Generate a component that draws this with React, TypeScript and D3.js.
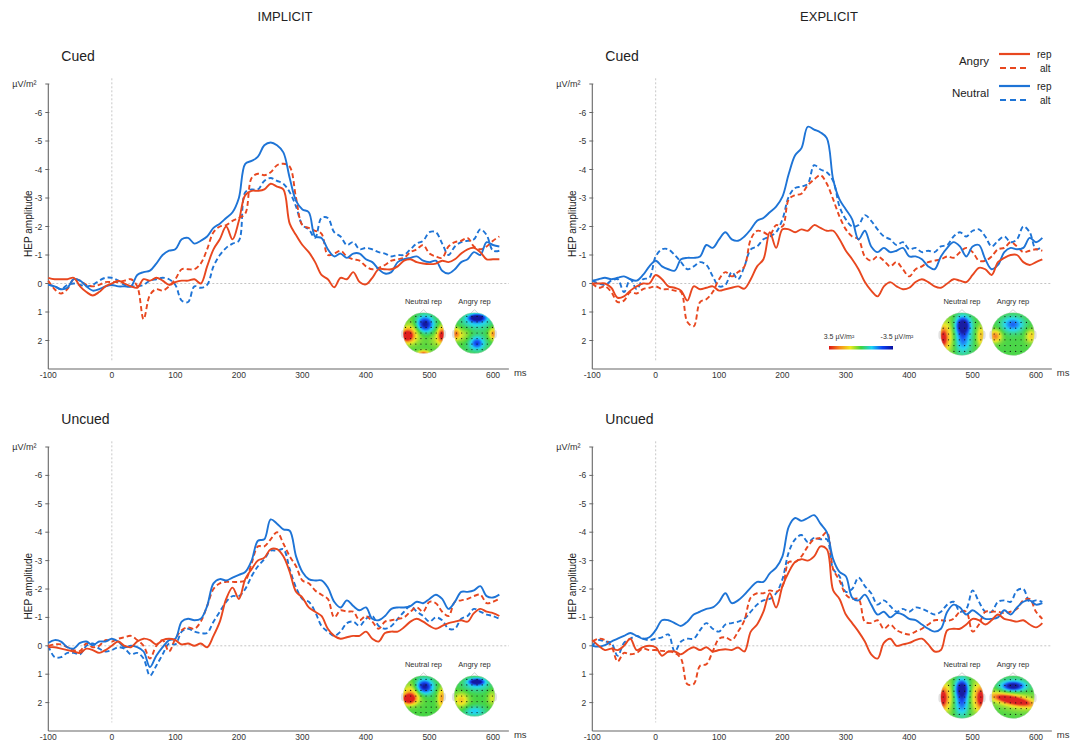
import React from "react";
import * as d3 from "d3";

// sample times (ms), one value every 10 ms
const TIMES = d3.range(-100, 611, 10);

// IMPLICIT – Cued
const IMP_CUED_NEU_REP = [
  0.05, 0.1, 0.2, 0.15, -0.15, -0.1, 0.1, 0.25, 0.2, 0.1,
  0.05, 0.1, 0.1, 0.1, -0.3, -0.4, -0.45, -0.7, -1.0, -1.15,
  -1.2, -1.55, -1.6, -1.4, -1.5, -1.65, -1.95, -2.1, -2.3, -2.5,
  -3.0, -4.2, -4.3, -4.45, -4.85, -4.95, -4.85, -4.6, -3.7, -2.9,
  -2.6, -2.5, -1.65, -1.6, -1.2, -0.95, -1.05, -0.9, -1.05, -1.05,
  -0.85, -0.75, -0.5, -0.35, -0.4, -0.75, -0.85, -0.9, -0.95, -0.8,
  -0.75, -0.8, -0.45, -0.35, -0.5, -0.75, -0.85, -1.1, -1.0, -1.45,
  -1.35, -1.3,
];
const IMP_CUED_NEU_ALT = [
  0.05, 0.1, 0.2, 0.05, 0.0, 0.05, 0.1, 0.05, -0.1, -0.2,
  -0.2, -0.1, 0.05, 0.1, 0.1, 0.05, -0.1, -0.15, -0.2, -0.15,
  0.05, 0.6, 0.65, 0.1, 0.15, 0.05, -0.6, -1.0, -1.25, -1.4,
  -1.5, -3.2, -3.3, -3.3, -3.6, -3.7, -3.6, -3.5, -3.2, -2.7,
  -2.05, -1.9, -1.6, -2.3, -2.3, -1.8, -1.65, -1.35, -1.45, -1.2,
  -1.25, -1.2, -1.1, -1.05, -0.95, -1.0, -1.0, -1.2, -1.4, -1.5,
  -1.8, -1.8, -1.4, -1.0, -1.3, -1.45, -1.5, -1.55, -1.9, -1.7,
  -1.15, -1.15,
];
const IMP_CUED_ANG_REP = [
  -0.2, -0.15, -0.15, -0.15, -0.2, 0.1, 0.3, 0.42, 0.3, 0.1,
  0.0, -0.1, 0.0, 0.1, 0.15, -0.15, -0.1, -0.2, -0.1, 0.05,
  -0.05, -0.1, -0.1, -0.15, 0.0, -0.6, -1.2, -1.55, -2.0, -1.55,
  -2.2, -3.1, -3.25, -3.25, -3.3, -3.5, -3.4, -3.3, -2.1, -1.7,
  -1.35, -1.1, -0.75, -0.3, -0.15, 0.13, -0.2, -0.15, -0.4, -0.05,
  0.03, -0.2, -0.5, -0.5, -0.5, -0.6, -0.8, -0.85, -0.75, -0.7,
  -0.68, -0.7, -0.8, -0.75, -0.85, -1.05, -1.2, -1.25, -1.1, -0.85,
  -0.85, -0.85,
];
const IMP_CUED_ANG_ALT = [
  -0.1, 0.2, 0.35, 0.2, -0.15, -0.1, 0.05, 0.1, 0.05, -0.05,
  -0.05, -0.05, -0.1, -0.15, 0.1, 1.25, 0.4, 0.2, 0.25, 0.1,
  -0.15, -0.5, -0.5, -0.5, -0.7, -1.2, -1.8, -2.0, -2.05, -2.2,
  -2.3, -2.45, -3.7, -3.85, -3.8, -3.9, -4.15, -4.2, -4.1, -3.0,
  -2.05, -1.95, -1.85, -1.75, -1.0, -1.05, -1.15, -0.95, -0.85, -0.8,
  -0.6, -0.5, -0.55, -0.65, -0.8, -0.85, -0.9, -1.1, -1.2, -1.35,
  -1.05, -0.95, -0.9, -1.3, -1.45, -1.5, -1.6, -1.3, -1.2, -1.3,
  -1.5, -1.65,
];

// EXPLICIT – Cued
const EXP_CUED_NEU_REP = [
  -0.1, -0.15, -0.2, -0.15, -0.2, -0.25, -0.15, -0.1, -0.3, -0.6,
  -0.8, -0.6, -0.5, -0.45, -0.85, -0.9, -0.9, -0.95, -1.35, -1.25,
  -1.55, -1.8, -1.55, -1.5, -1.65, -1.9, -2.2, -2.3, -2.5, -2.7,
  -3.05, -3.85, -4.5, -4.75, -5.5, -5.4, -5.3, -5.1, -3.65, -2.95,
  -2.6, -2.25, -1.55, -1.85, -1.3, -1.1, -1.25, -1.1, -1.15, -1.25,
  -0.95, -0.95, -0.85, -0.6, -0.5, -0.95, -1.25, -1.45, -1.3, -0.95,
  -1.3, -1.35, -0.85, -0.5, -0.65, -1.1, -1.25, -1.2, -1.25, -1.6,
  -1.45, -1.6,
];
const EXP_CUED_NEU_ALT = [
  -0.1, 0.0, 0.05, -0.1, -0.15, 0.3, -0.15, 0.2, -0.15, -0.2,
  -0.95, -1.2, -1.2, -1.0, -0.75, -0.5, -0.6, -0.75, -0.65, -0.25,
  0.1, 0.05, -0.4, -0.15, -0.6, -1.2, -1.3, -1.55, -1.65, -1.8,
  -2.25, -3.05, -3.35, -3.4, -3.5, -4.15, -4.0, -3.9, -3.6, -2.7,
  -2.25, -2.0, -2.05, -2.4, -2.2, -1.9, -1.65, -1.55, -1.35, -1.45,
  -1.2, -1.25, -1.1, -1.15, -1.1, -1.3, -1.35, -1.65, -1.8, -1.65,
  -1.85, -1.9, -1.65, -1.3, -1.5, -1.65, -1.45, -1.55, -2.0, -1.8,
  -1.2, -1.3,
];
const EXP_CUED_ANG_REP = [
  0.0, 0.0, 0.0, 0.15, 0.5, 0.45, 0.25, 0.1, 0.0, 0.0,
  -0.3, -0.15, 0.1, 0.15, 0.25, 0.6, 0.1, 0.2, 0.15, 0.1,
  0.25, 0.2, 0.15, 0.1, 0.18, -0.15, -0.6, -0.85, -1.8, -1.25,
  -1.9, -1.9, -1.8, -1.9, -1.85, -2.05, -1.95, -1.85, -1.85, -1.55,
  -1.15, -0.85, -0.5, -0.05, 0.25, 0.45, 0.1, -0.05, 0.1, 0.2,
  0.15, -0.05, -0.15, -0.05, 0.1, 0.15, 0.0, -0.15, -0.1, -0.05,
  -0.3, -0.55, -0.5, -0.3, -0.75, -0.9, -1.0, -1.0, -0.75, -0.65,
  -0.75, -0.85,
];
const EXP_CUED_ANG_ALT = [
  0.0, 0.15, 0.1, 0.3, 0.65, 0.6, 0.3, 0.35, 0.2, 0.15,
  0.1, 0.2, 0.2, 0.25, 0.3, 1.35, 1.5, 0.65, 0.55, 0.3,
  -0.15, -0.4, -0.25, -0.4, -0.6, -1.55, -1.85, -1.8, -1.7, -2.05,
  -2.0, -2.95, -3.1, -3.15, -3.45, -3.65, -3.8, -3.5, -2.95, -2.35,
  -1.9, -1.65, -1.55, -0.95, -0.8, -0.95, -0.8, -0.6, -0.75, -0.5,
  -0.25, -0.5, -0.6, -0.75, -0.8, -0.85, -0.95, -0.9, -1.1, -1.25,
  -1.1, -0.8, -0.8, -0.95, -1.2, -1.25, -1.45, -1.3, -1.1, -1.15,
  -1.2, -1.15,
];

// IMPLICIT – Uncued
const IMP_UNCUED_NEU_REP = [
  -0.1, -0.2, -0.15, 0.05, 0.1, -0.1, -0.15, -0.02, -0.15, -0.15,
  -0.25, -0.15, 0.05, 0.0, 0.05, 0.2, 0.75, 0.35, 0.05, -0.2,
  -0.25, -0.85, -0.95, -0.9, -0.95, -1.4, -2.2, -2.35, -2.3, -2.4,
  -2.5, -2.6, -3.0, -3.7, -3.75, -4.45, -4.3, -4.1, -4.05, -3.15,
  -2.6, -2.35, -2.3, -2.3, -2.05, -1.55, -1.35, -1.6, -1.4, -1.25,
  -1.35, -0.95, -0.9, -1.05, -1.3, -1.35, -1.35, -1.4, -1.55, -1.5,
  -1.65, -1.8, -1.65, -1.3, -1.55, -1.9, -1.9, -1.95, -2.1, -1.75,
  -1.7, -1.8,
];
const IMP_UNCUED_NEU_ALT = [
  0.0, 0.4, 0.4, 0.25, 0.25, 0.3, 0.0, -0.08, 0.1, 0.2,
  0.15, 0.05, 0.1, 0.3, 0.25, 0.45, 1.05, 0.7, 0.3, -0.08,
  -0.05, -0.5, -0.6, -0.5, -0.45, -0.45, -0.85, -1.2, -1.55, -1.75,
  -1.75, -2.0, -2.45, -2.8, -3.05, -3.35, -3.35, -3.4, -2.7, -2.05,
  -1.65, -1.55, -1.2, -0.7, -0.5, -0.35, -0.5, -0.8, -0.85, -0.7,
  -0.95, -1.05, -0.7, -0.6, -0.7, -0.95, -1.2, -1.4, -1.2, -1.05,
  -0.85, -1.0, -0.9, -0.6, -0.6, -0.95, -1.05, -1.3, -1.2, -1.1,
  -1.05, -0.95,
];
const IMP_UNCUED_ANG_REP = [
  0.05, 0.05, 0.1, 0.15, 0.2, 0.25, 0.1, 0.15, 0.25, 0.15,
  0.0, -0.15, 0.0, 0.05, -0.15, -0.25, -0.2, -0.05, -0.2, -0.25,
  -0.2, -0.05, -0.08, 0.0, -0.08, 0.05, -0.35, -0.85, -1.65, -2.05,
  -1.65, -2.35, -2.7, -3.0, -3.1, -3.4, -3.4, -3.15, -2.6, -1.9,
  -1.7, -1.35, -1.2, -1.05, -0.6, -0.35, -0.25, -0.3, -0.35, -0.35,
  -0.5, -0.25, -0.15, -0.45, -0.5, -0.5, -0.65, -0.85, -0.95, -0.85,
  -0.7, -0.6, -0.7, -0.8, -0.85, -0.9, -0.85, -1.15, -1.3, -1.2,
  -1.15, -1.05,
];
const IMP_UNCUED_ANG_ALT = [
  0.0, -0.05, -0.05, 0.05, 0.15, 0.18, -0.08, 0.05, 0.0, -0.2,
  -0.15, -0.25, -0.3, -0.35, -0.2, 0.0, 0.45, 0.0, -0.2, 0.2,
  -0.25, -0.55, -0.65, -0.6, -0.85, -1.4, -2.0, -2.2, -2.25, -2.25,
  -2.25, -2.3, -2.9, -3.5, -3.5, -3.75, -4.0, -3.6, -3.15, -2.8,
  -2.3, -2.2, -1.95, -1.8, -1.65, -1.0, -1.25, -1.2, -1.2, -0.9,
  -1.05, -0.85, -0.6, -0.85, -0.9, -0.95, -1.0, -1.2, -1.35, -1.2,
  -1.55, -1.5, -1.2, -1.05, -1.55, -1.6, -1.65, -1.75, -1.8, -1.5,
  -1.55, -1.65,
];

// EXPLICIT – Uncued
const EXP_UNCUED_NEU_REP = [
  0.0, 0.03, -0.02, -0.15, -0.25, -0.35, -0.45, -0.35, -0.25, -0.3,
  -0.55, -0.9, -0.9, -0.8, -0.7, -0.85, -1.1, -1.2, -1.3, -1.35,
  -1.55, -1.85, -1.5, -1.6, -1.8, -2.05, -2.25, -2.25, -2.55, -2.75,
  -3.15, -4.2, -4.5, -4.4, -4.5, -4.6, -4.3, -4.0, -3.05, -2.6,
  -2.45, -1.7, -1.6, -1.8, -1.45, -1.1, -1.2, -1.0, -1.15, -1.1,
  -0.95, -0.9, -0.75, -0.6, -0.5, -0.6, -1.2, -1.45, -1.35, -1.1,
  -1.25, -1.1, -0.95, -0.95, -1.0, -1.25, -1.1, -1.35, -1.55, -1.6,
  -1.45, -1.5,
];
const EXP_UNCUED_NEU_ALT = [
  0.0, -0.2, -0.15, -0.1, 0.35, -0.1, -0.25, -0.35, -0.25, -0.2,
  -0.25, -0.3, -0.4, 0.2, -0.15, -0.25, -0.25, -0.55, -0.8, -0.6,
  -0.5, -0.75, -0.8, -0.85, -0.95, -1.2, -1.45, -1.6, -1.65, -1.85,
  -2.35, -3.3, -3.75, -3.9, -3.65, -3.8, -3.75, -3.75, -2.7, -2.45,
  -1.9, -2.0, -2.4, -2.1, -1.85, -1.45, -1.6, -1.4, -1.2, -1.3,
  -1.2, -1.35, -1.3, -1.2, -1.1, -1.2, -1.45, -1.55, -1.2, -1.3,
  -1.95, -1.55, -1.2, -1.2, -1.55, -1.6, -1.55, -1.95, -2.0, -1.55,
  -1.6, -1.55,
];
const EXP_UNCUED_ANG_REP = [
  -0.2, 0.0, 0.15, 0.1, 0.15, 0.0, -0.25, 0.15, 0.05, 0.0,
  0.05, 0.35, 0.2, 0.2, 0.3, 0.15, 0.05, 0.15, 0.05, 0.2,
  0.15, 0.12, 0.15, 0.06, 0.2, -0.5, -0.75, -1.2, -1.85, -1.35,
  -2.1, -2.6, -2.95, -3.05, -3.0, -3.15, -3.5, -3.4, -1.95, -1.65,
  -1.1, -0.8, -0.5, -0.15, 0.3, 0.45, -0.1, -0.25, 0.0, -0.05,
  -0.1, -0.2, -0.25, -0.05, 0.2, 0.15, -0.55, -0.6, -0.6, -0.75,
  -0.95, -0.9, -0.75, -0.9, -1.1, -0.95, -0.9, -0.85, -0.9, -0.75,
  -0.65, -0.8,
];
const EXP_UNCUED_ANG_ALT = [
  -0.15, -0.25, -0.2, 0.0, 0.55, 0.25, 0.3, 0.25, 0.1, 0.15,
  0.15, 0.18, 0.2, 0.25, 0.45, 1.35, 1.35, 0.7, 0.65, 0.2,
  -0.25, -0.3, -0.2, -0.5, -0.9, -1.7, -1.85, -1.85, -1.95, -1.9,
  -2.1, -2.95, -2.95, -3.15, -3.5, -3.75, -3.8, -4.0, -2.7, -2.3,
  -1.8, -1.65, -1.65, -0.85, -0.8, -0.9, -0.6, -0.75, -0.55, -0.45,
  -0.4, -0.5, -0.6, -0.75, -0.9, -0.9, -0.88, -0.95, -1.2, -1.2,
  -0.5, -0.75, -1.2, -1.2, -1.2, -1.15, -1.2, -1.3, -1.6, -1.65,
  -1.2, -0.95,
];

// scalp maps: [u, v, sx, sy, amplitude µV/m², rotation°] in unit-head space
const MAP_IMP_CUED_NEU = [
  [0.05, -0.42, 0.3, 0.28, -3.9, 0], [-0.82, 0.15, 0.22, 0.22, 4.0, 0],
  [-0.5, -0.05, 0.35, 0.4, 1.6, 0], [0.9, 0.1, 0.15, 0.28, 3.6, 0],
  [0.6, 0.3, 0.25, 0.3, 0.8, 0], [0.0, 1.0, 0.2, 0.1, 3.0, 0],
];
const MAP_IMP_CUED_ANG = [
  [0.12, -0.75, 0.28, 0.12, -3.8, 0], [0.1, -0.55, 0.5, 0.25, -1.6, 0],
  [0.12, 0.5, 0.22, 0.2, -2.0, 0], [0.1, 0.5, 0.4, 0.3, -0.8, 0],
  [-0.92, 0.05, 0.15, 0.2, 2.6, 0], [0.92, 0.05, 0.15, 0.2, 2.6, 0],
  [-0.55, 0.1, 0.25, 0.25, 1.0, 0],
];
const MAP_EXP_CUED_NEU = [
  [0.05, -0.42, 0.24, 0.28, -4.0, 0], [0.05, 0.25, 0.26, 0.45, -2.2, 0],
  [-0.88, 0.2, 0.15, 0.4, 3.4, 0], [-0.6, 0.1, 0.22, 0.55, 1.4, 0],
  [0.9, 0.1, 0.15, 0.35, 2.0, 0],
];
const MAP_EXP_CUED_ANG = [
  [0.0, -0.45, 0.35, 0.25, -2.4, 0], [-0.82, 0.1, 0.2, 0.2, 2.8, 0],
  [0.85, 0.1, 0.18, 0.22, 1.8, 0],
];
const MAP_IMP_UNCUED_NEU = [
  [0.02, -0.45, 0.3, 0.25, -3.9, 0], [-0.72, 0.15, 0.24, 0.18, 4.0, 0],
  [-0.55, -0.15, 0.35, 0.35, 2.0, 0], [0.9, 0.1, 0.15, 0.35, 2.4, 0],
];
const MAP_IMP_UNCUED_ANG = [
  [0.1, -0.7, 0.25, 0.1, -3.8, 0], [0.1, -0.55, 0.45, 0.22, -1.4, 0],
  [-0.65, 0.2, 0.25, 0.25, 1.9, 0], [0.0, 0.75, 0.35, 0.18, -1.5, 0],
  [0.85, 0.1, 0.15, 0.25, 1.2, 0],
];
const MAP_EXP_UNCUED_NEU = [
  [0.0, -0.4, 0.22, 0.3, -4.0, 0], [0.0, 0.3, 0.24, 0.4, -2.2, 0],
  [-0.9, 0.05, 0.15, 0.4, 3.8, 0], [0.9, 0.05, 0.15, 0.4, 3.8, 0],
  [-0.6, 0.0, 0.2, 0.55, 1.4, 0], [0.6, 0.0, 0.2, 0.55, 1.4, 0],
];
const MAP_EXP_UNCUED_ANG = [
  [0.0, -0.5, 0.35, 0.15, -3.2, 0], [0.0, -0.5, 0.5, 0.25, -1.2, 0],
  [0.0, 0.15, 0.65, 0.13, 3.9, 12], [0.0, 0.12, 0.8, 0.3, 1.8, 12],
];

const Y_TICKS = [-6, -5, -4, -3, -2, -1, 0, 1, 2];
const X_TICKS = [-100, 0, 100, 200, 300, 400, 500, 600];

const RED = "#e8471f";
const BLUE = "#1e74d6";
const FONT = "'Liberation Sans', Arial, Helvetica, sans-serif";

const jet = d3
  .scaleLinear<string>()
  .domain([-3.5, -2.6, -1.4, 0, 1.4, 2.6, 3.5])
  .range(["#0a0f9e", "#0b42f4", "#1ad4f3", "#3fd33c", "#eee81c", "#f78a1b", "#dd1414"])
  .clamp(true);

const PANELS = [
  {
    id: "ic", label: "Cued", x0: 48.3, x1: 493, y0: 84, y1: 369,
    nr: IMP_CUED_NEU_REP, na: IMP_CUED_NEU_ALT, ar: IMP_CUED_ANG_REP, aa: IMP_CUED_ANG_ALT,
    maps: [MAP_IMP_CUED_NEU, MAP_IMP_CUED_ANG], mx: [423.5, 474.5], my: 333, mr: 20.5,
  },
  {
    id: "ec", label: "Cued", x0: 592.3, x1: 1036, y0: 84, y1: 369,
    nr: EXP_CUED_NEU_REP, na: EXP_CUED_NEU_ALT, ar: EXP_CUED_ANG_REP, aa: EXP_CUED_ANG_ALT,
    maps: [MAP_EXP_CUED_NEU, MAP_EXP_CUED_ANG], mx: [962, 1013], my: 334, mr: 21.5,
  },
  {
    id: "iu", label: "Uncued", x0: 48.3, x1: 493, y0: 447, y1: 731,
    nr: IMP_UNCUED_NEU_REP, na: IMP_UNCUED_NEU_ALT, ar: IMP_UNCUED_ANG_REP, aa: IMP_UNCUED_ANG_ALT,
    maps: [MAP_IMP_UNCUED_NEU, MAP_IMP_UNCUED_ANG], mx: [423.5, 474.5], my: 696, mr: 20.5,
  },
  {
    id: "eu", label: "Uncued", x0: 592.3, x1: 1036, y0: 447, y1: 731,
    nr: EXP_UNCUED_NEU_REP, na: EXP_UNCUED_NEU_ALT, ar: EXP_UNCUED_ANG_REP, aa: EXP_UNCUED_ANG_ALT,
    maps: [MAP_EXP_UNCUED_NEU, MAP_EXP_UNCUED_ANG], mx: [962, 1013], my: 697, mr: 21.5,
  },
];

function mapValue(blobs: number[][], u: number, v: number) {
  let s = 0;
  for (const [bu, bv, sx, sy, a, rot] of blobs) {
    const t = (rot * Math.PI) / 180;
    const du = u - bu, dv = v - bv;
    const pu = du * Math.cos(t) + dv * Math.sin(t);
    const pv = -du * Math.sin(t) + dv * Math.cos(t);
    s += a * Math.exp(-(pu * pu) / (2 * sx * sx) - (pv * pv) / (2 * sy * sy));
  }
  return s;
}

function Topo({ id, cx, cy, r, blobs, label }: any) {
  const n = Math.round(r * 2);
  const hx = d3.scaleLinear().domain([-1, 1]).range([cx - r, cx + r]);
  const hy = d3.scaleLinear().domain([-1, 1]).range([cy - r, cy + r]);
  const cells: { x: number; y: number; c: string }[] = [];
  for (let i = 0; i < n; i++) {
    for (let j = 0; j < n; j++) {
      const u = -1 + ((i + 0.5) * 2) / n;
      const v = -1 + ((j + 0.5) * 2) / n;
      if (u * u + v * v > 1.12) continue;
      cells.push({ x: hx(-1 + (i * 2) / n), y: hy(-1 + (j * 2) / n), c: jet(mapValue(blobs, u, v)) });
    }
  }
  const cw = (2 * r) / n;
  const dots: [number, number][] = [];
  for (let row = -3; row <= 3; row++) {
    for (let col = -3.5; col <= 3.5; col++) {
      const u = col * 0.25, v = row * 0.27;
      if (u * u + v * v < 0.93) dots.push([u, v]);
    }
  }
  return (
    <g>
      <text x={cx} y={cy - r - 9} textAnchor="middle" fontSize={7.5} fill="#333">{label}</text>
      <ellipse cx={hx(-1.02)} cy={hy(0.05)} rx={r * 0.08} ry={r * 0.2} fill="#e2e2e2" />
      <ellipse cx={hx(1.02)} cy={hy(0.05)} rx={r * 0.08} ry={r * 0.2} fill="#e2e2e2" />
      <path
        d={`M${hx(-0.18)},${hy(-0.97)} L${hx(0)},${hy(-1.13)} L${hx(0.18)},${hy(-0.97)}`}
        fill="#fff" stroke="#bbb" strokeWidth={0.7}
      />
      <clipPath id={`clip-${id}`}>
        <circle cx={cx} cy={cy} r={r} />
      </clipPath>
      <g clipPath={`url(#clip-${id})`}>
        {cells.map((c, k) => (
          <rect key={k} x={c.x} y={c.y} width={cw + 0.35} height={cw + 0.35} fill={c.c} />
        ))}
      </g>
      <circle cx={cx} cy={cy} r={r} fill="none" stroke="#d8d8d8" strokeWidth={0.4} />
      {dots.map(([u, v], k) => (
        <circle key={k} cx={hx(u)} cy={hy(v)} r={0.6} fill="#111" />
      ))}
    </g>
  );
}

function Panel({ p }: any) {
  const x = d3.scaleLinear().domain([-100, 600]).range([p.x0, p.x1]);
  const y = d3.scaleLinear().domain([-7, 3]).range([p.y0, p.y1]);
  const line = d3
    .line<number>()
    .x((_, i) => x(TIMES[i]))
    .y((d) => y(d))
    .curve(d3.curveCatmullRom.alpha(0.5));
  const xEnd = x(625);
  const series = [
    { d: p.na, c: BLUE, dash: "5 3" },
    { d: p.aa, c: RED, dash: "5 3" },
    { d: p.nr, c: BLUE, dash: null },
    { d: p.ar, c: RED, dash: null },
  ];
  return (
    <g fontFamily={FONT}>
      <text x={p.x0 + 13} y={p.y0 - 23} fontSize={14} fill="#222">{p.label}</text>
      <text x={p.x0 - 36} y={p.y0 + 3} fontSize={9} fill="#333">µV/m²</text>
      <text
        transform={`translate(${p.x0 - 16},${y(-2.1)}) rotate(-90)`}
        textAnchor="middle" fontSize={10} fill="#222"
      >HEP amplitude</text>
      {/* reference lines */}
      <line x1={x(0)} x2={x(0)} y1={y(-7.2)} y2={y(2.7)} stroke="#c8c8c8" strokeWidth={1} strokeDasharray="2 2" />
      <line x1={p.x0} x2={xEnd} y1={y(0)} y2={y(0)} stroke="#b5b5b5" strokeWidth={0.8} strokeDasharray="2 2" />
      {/* axes */}
      <line x1={p.x0} x2={p.x0} y1={p.y0} y2={p.y1} stroke="#666" strokeWidth={1.1} />
      <line x1={p.x0} x2={xEnd} y1={p.y1} y2={p.y1} stroke="#666" strokeWidth={1.1} />
      <line x1={p.x0 - 3} x2={p.x0 + 1} y1={y(-7)} y2={y(-7)} stroke="#666" strokeWidth={1} />
      {Y_TICKS.map((t) => (
        <g key={t}>
          <line x1={p.x0 - 3} x2={p.x0 + 1} y1={y(t)} y2={y(t)} stroke="#666" strokeWidth={1} />
          <text x={p.x0 - 6} y={y(t) + 3} textAnchor="end" fontSize={8.5} fill="#333">{t}</text>
        </g>
      ))}
      {X_TICKS.map((t) => (
        <text key={t} x={x(t)} y={p.y1 + 8.5} textAnchor="middle" fontSize={8.5} fill="#333">{t}</text>
      ))}
      <text x={xEnd + 5} y={p.y1 + 7} fontSize={9.5} fill="#333">ms</text>
      {series.map((s, i) => (
        <path
          key={i}
          d={line(s.d) || ""}
          fill="none"
          stroke={s.c}
          strokeWidth={1.9}
          strokeDasharray={s.dash || undefined}
          strokeLinejoin="round"
        />
      ))}
      <Topo id={`${p.id}-n`} cx={p.mx[0]} cy={p.my} r={p.mr} blobs={p.maps[0]} label="Neutral rep" />
      <Topo id={`${p.id}-a`} cx={p.mx[1]} cy={p.my} r={p.mr} blobs={p.maps[1]} label="Angry rep" />
    </g>
  );
}

function Legend() {
  const rows = [
    { g: "Angry", c: RED, y: 54 },
    { g: "Neutral", c: BLUE, y: 86 },
  ];
  return (
    <g fontFamily={FONT}>
      {rows.map((r) => (
        <g key={r.g}>
          <text x={989} y={r.y + 11} textAnchor="end" fontSize={11.5} fill="#222">{r.g}</text>
          <line x1={999} x2={1030} y1={r.y} y2={r.y} stroke={r.c} strokeWidth={2.2} />
          <line x1={1000} x2={1028} y1={r.y + 14} y2={r.y + 14} stroke={r.c} strokeWidth={2.2} strokeDasharray="6 4" />
          <text x={1037} y={r.y + 3.5} fontSize={10} fill="#222">rep</text>
          <text x={1040} y={r.y + 18} fontSize={10} fill="#222">alt</text>
        </g>
      ))}
    </g>
  );
}

function ColorBar() {
  const stops = jet.domain().slice().reverse();
  return (
    <g fontFamily={FONT}>
      <defs>
        <linearGradient id="cbar" x1="0" x2="1" y1="0" y2="0">
          {stops.map((v, i) => (
            <stop key={i} offset={i / (stops.length - 1)} stopColor={jet(v)} />
          ))}
        </linearGradient>
      </defs>
      <text x={839} y={339} textAnchor="middle" fontSize={7} fill="#333">3.5 µV/m²</text>
      <text x={897} y={339} textAnchor="middle" fontSize={7} fill="#333">-3.5 µV/m²</text>
      <rect x={829} y={346} width={64} height={3.5} fill="url(#cbar)" />
    </g>
  );
}

export default function App() {
  return (
    <div style={{ position: "absolute", left: 0, top: 0 }}>
      <svg width={1079} height={742} style={{ display: "block", background: "#fff" }}>
        <text x={285} y={21} textAnchor="middle" fontFamily={FONT} fontSize={13} fill="#222">IMPLICIT</text>
        <text x={829} y={21} textAnchor="middle" fontFamily={FONT} fontSize={13} fill="#222">EXPLICIT</text>
        {PANELS.map((p) => (
          <Panel key={p.id} p={p} />
        ))}
        <Legend />
        <ColorBar />
      </svg>
    </div>
  );
}
